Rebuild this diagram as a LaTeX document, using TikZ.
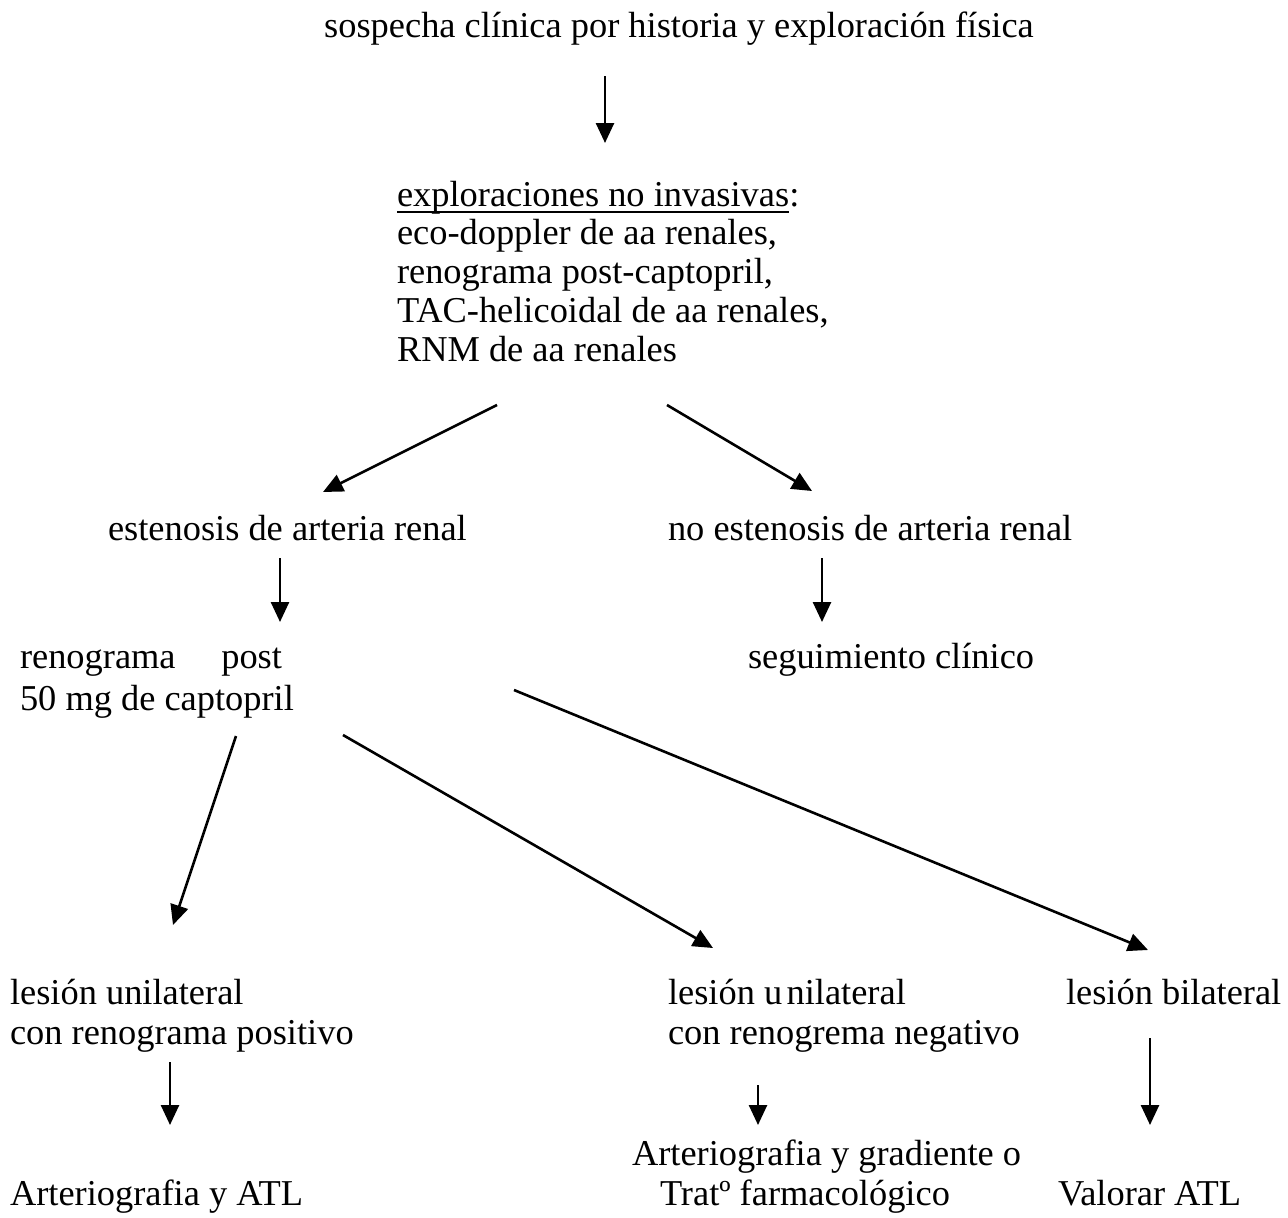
\documentclass[tikz,border=0pt]{standalone}
\usepackage{fontspec}
\setmainfont{Liberation Serif}
\usetikzlibrary{arrows.meta}
\newlength\ullen
\begin{document}
\begin{tikzpicture}[x=1pt,y=-1pt,
  txt/.style={anchor=base west,inner sep=0pt,outer sep=0pt,font=\fontsize{36.4}{40}\selectfont},
  ctxt/.style={anchor=base,inner sep=0pt,outer sep=0pt,font=\fontsize{36.4}{40}\selectfont},
  arr/.style={line width=2.6pt,-{Triangle[length=20pt,width=18pt]}}]
\useasboundingbox (0,0) rectangle (1288,1218);
% texts
\node[ctxt] (title) at (679,37) {sospecha clínica por historia y exploración física};
\node[txt] (b1) at (397,206) {\settowidth{\ullen}{exploraciones no invasivas}\rlap{\rule[-7pt]{\ullen}{2pt}}exploraciones no invasivas:};
\node[txt] (b2) at (397,244.75) {eco-doppler de aa renales,};
\node[txt] (b3) at (397,283.5) {renograma post-captopril,};
\node[txt] (b4) at (397,322.25) {TAC-helicoidal de aa renales,};
\node[txt] (b5) at (397,361) {RNM de aa renales};
\node[txt] (est) at (108,540) {estenosis de arteria renal};
\node[txt] (noest) at (668,540) {no estenosis de arteria renal};
\node[txt] (ren1) at (20,668) {\makebox[262pt][s]{renograma\hfill post}};
\node[txt] (ren2) at (20,710) {50 mg de captopril};
\node[txt] (seg) at (748,668) {seguimiento clínico};
\node[txt] (lu1) at (10,1004) {lesión unilateral};
\node[txt] (lu2) at (10,1044) {con renograma positivo};
\node[txt] (art1) at (10,1205) {Arteriografia y ATL};
\node[txt] (ln1) at (668,1004) {lesión u\hspace{0.12em}nilateral};
\node[txt] (ln2) at (668,1044) {con renogrema negativo};
\node[txt] (lb) at (1066,1004) {lesión bilateral};
\node[txt] (ag1) at (632,1165) {Arteriografia y gradiente o};
\node[txt] (ag2) at (660,1205) {Tratº farmacológico};
\node[txt] (val) at (1058,1205) {Valorar ATL};
% arrow end points
\coordinate (a1s) at (605,76);   \coordinate (a1e) at (605,143);
\coordinate (a2s) at (497,405);  \coordinate (a2e) at (323,492);
\coordinate (a3s) at (667,405);  \coordinate (a3e) at (812,491);
\coordinate (a4s) at (280,558);  \coordinate (a4e) at (280,622);
\coordinate (a5s) at (822,558);  \coordinate (a5e) at (822,622);
\coordinate (a6s) at (236,736);  \coordinate (a6e) at (173,925);
\coordinate (a7s) at (343,735);  \coordinate (a7e) at (713,948);
\coordinate (a8s) at (514,690);  \coordinate (a8e) at (1148,950);
\coordinate (a9s) at (170,1062); \coordinate (a9e) at (170,1125);
\coordinate (a10s) at (758,1085); \coordinate (a10e) at (758,1125);
\coordinate (a11s) at (1150,1038); \coordinate (a11e) at (1150,1125);
\foreach \i in {1,...,11} {\draw[arr] (a\i s) -- (a\i e);}
\end{tikzpicture}
\end{document}
